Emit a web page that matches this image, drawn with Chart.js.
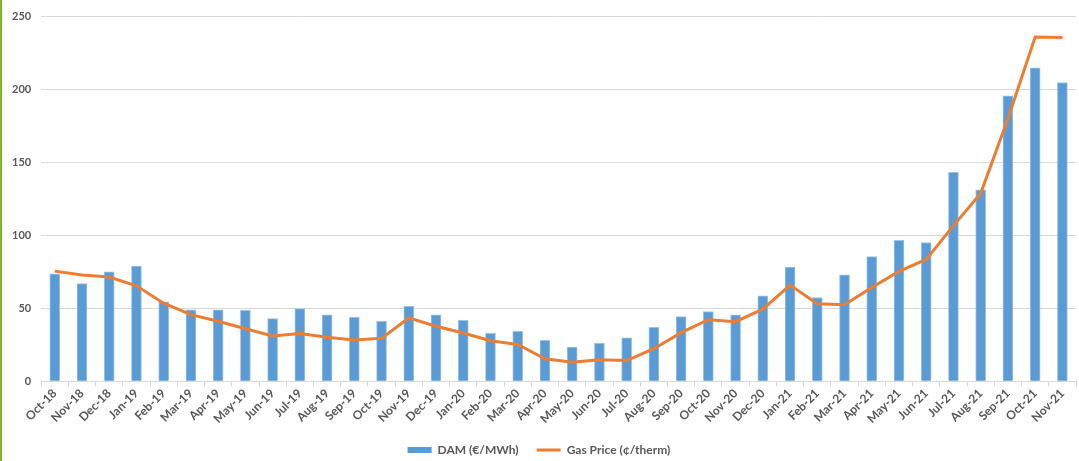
<!DOCTYPE html>
<html>
<head>
<meta charset="utf-8">
<script src="https://cdn.jsdelivr.net/npm/chart.js@4"></script>
<style>
html,body{margin:0;padding:0;background:#fff;}
body{width:1079px;height:461px;overflow:hidden;position:relative;}
#bar{position:absolute;left:0;top:0;width:2px;height:461px;background:#7ab829;}
#wrap{position:absolute;left:2px;top:0;width:1077px;height:461px;}
</style>
</head>
<body>
<div id="bar"></div>
<div id="wrap"><canvas id="c"></canvas></div>
<script>
const categories = ["Oct-18","Nov-18","Dec-18","Jan-19","Feb-19","Mar-19","Apr-19","May-19","Jun-19","Jul-19","Aug-19","Sep-19","Oct-19","Nov-19","Dec-19","Jan-20","Feb-20","Mar-20","Apr-20","May-20","Jun-20","Jul-20","Aug-20","Sep-20","Oct-20","Nov-20","Dec-20","Jan-21","Feb-21","Mar-21","Apr-21","May-21","Jun-21","Jul-21","Aug-21","Sep-21","Oct-21","Nov-21"];
const damValues = [73.7,67,75,79,54.4,49,49,48.7,42.9,49.8,45.5,43.9,41.1,51.4,45.5,41.8,32.8,34.2,28,23.4,26,29.8,37,44.3,47.7,45.5,58.5,78.3,57.4,73,85.4,96.6,95,143.2,131.3,195.6,214.9,204.8];
const gasValues = [75.5,72.8,71.4,65.4,53.5,45.7,41.1,36,31,32.8,30.1,28.2,29.4,43.4,37.7,33.1,27.8,25.2,15.4,13.1,14.7,14.2,22.3,33.3,42.2,40.8,49.4,65.9,53.2,52.5,64.3,75.3,83.5,106.7,128.8,180,236,235.7];
const yTicks = [0,50,100,150,200,250];

const grey = '#595959';
const fontFam = 'Lato, "Open Sans", sans-serif';

new Chart(document.getElementById('c'), {
  type: 'bar',
  data: {
    labels: categories,
    datasets: [
      {
        type: 'line',
        label: 'Gas Price (¢/therm)',
        data: gasValues,
        borderColor: '#ED7D31',
        backgroundColor: '#ED7D31',
        borderWidth: 3,
        pointRadius: 0,
        tension: 0,
        order: 0
      },
      {
        type: 'bar',
        label: 'DAM (€/MWh)',
        data: damValues,
        backgroundColor: '#5B9BD5',
        borderColor: '#9DC3E6',
        borderWidth: {left:1,right:1,top:1,bottom:0},
        barThickness: 10,
        order: 1
      }
    ]
  },
  options: {
    responsive: true,
    maintainAspectRatio: false,
    animation: false,
    layout: {padding: {left: 0, right: 3, top: 11, bottom: -5}},
    plugins: {
      tooltip: {enabled: false},
      legend: {
        position: 'bottom',
        reverse: true,
        labels: {
          color: grey,
          font: {family: fontFam, size: 12, weight: 'bold'},
          usePointStyle: true,
          pointStyleWidth: 24,
          boxHeight: 6,
          padding: 18,
          generateLabels: function(chart) {
            const items = Chart.defaults.plugins.legend.labels.generateLabels(chart);
            items.forEach(it => {
              const ds = chart.data.datasets[it.datasetIndex];
              if (ds.type === 'line') { it.pointStyle = 'line'; it.lineWidth = 3; it.strokeStyle = '#ED7D31'; }
              else { it.pointStyle = 'rect'; it.lineWidth = 0; it.fillStyle = '#5B9BD5'; it.strokeStyle = '#5B9BD5'; }
            });
            return items;
          }
        }
      }
    },
    scales: {
      x: {
        offset: true,
        grid: {display: true, drawOnChartArea: false, drawTicks: true, tickLength: 5, color: '#d9d9d9', offset: true},
        border: {display: true, color: '#d9d9d9'},
        ticks: {
          color: grey,
          font: {family: fontFam, size: 12, weight: 'bold'},
          minRotation: 45, maxRotation: 45, autoSkip: false, padding: 0
        }
      },
      y: {
        min: 0, max: 250,
        afterBuildTicks: s => { s.ticks = yTicks.map(v => ({value: v})); },
        grid: {color: '#d9d9d9', drawTicks: false},
        border: {display: false},
        ticks: {
          color: grey,
          font: {family: fontFam, size: 11, weight: 'bold'},
          padding: 10
        }
      }
    }
  }
});
</script>
</body>
</html>
